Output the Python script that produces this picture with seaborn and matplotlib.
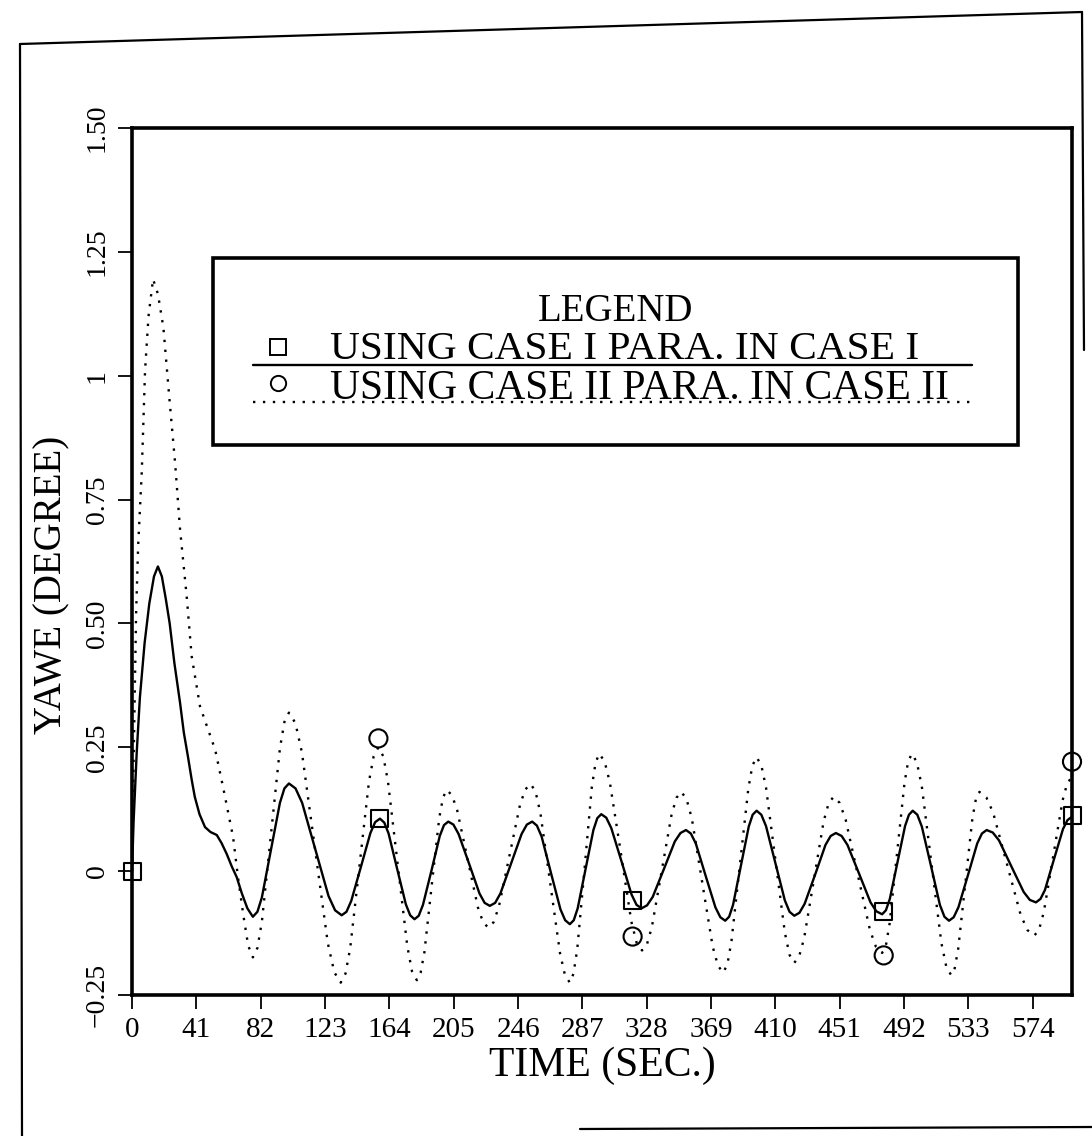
import matplotlib
matplotlib.use("Agg")
import matplotlib.pyplot as plt
from matplotlib.lines import Line2D
from matplotlib.patches import Rectangle
import seaborn as sns
import pandas as pd

# case I parameters in case I (solid curve)
time_case1 = [0, 1, 3, 5, 8, 11, 14, 16.5, 19, 21.5,
              24, 27, 30.6, 33, 35.7, 38, 40, 43, 46.5, 50,
              54, 57, 60.3, 63.5, 66.7, 70, 73.5, 77,
              79.9, 82.75, 88.5, 94.25, 97.1, 100,
              104.2, 108.4, 116.8, 125.2, 129.4, 133.6,
              136.65, 139.7, 145.8, 151.9, 154.95, 158,
              160.75, 163.5, 169, 174.5, 177.25, 180,
              182.7, 185.4, 190.8, 196.1, 198.8, 201.5,
              204.8, 208.1, 214.8, 221.4, 224.7, 228,
              231.4, 234.75, 241.5, 248.25, 251.6, 255,
              258, 261, 267, 273, 276, 279,
              281.5, 284, 289, 294, 296.5, 299,
              302.2, 305.4, 311.9, 318.3, 321.5, 324.7,
              328.2, 331.8, 338.9, 345.9, 349.5, 353,
              356.1, 359.25, 365.5, 371.75, 374.9, 378,
              380.5, 383, 388, 393, 395.5, 398,
              401, 404, 410, 416, 419, 422,
              425.3, 428.6, 435.3, 441.9, 445.2, 448.5,
              452.2, 455.9, 463.3, 470.6, 474.3, 478,
              480.4, 482.9, 487.8, 492.6, 495.1, 497.5,
              500.4, 503.3, 509.1, 514.8, 517.7, 520.6,
              523.6, 526.6, 532.6, 538.6, 541.6, 544.6,
              548.5, 552.5, 560.3, 568.2, 572.1, 576,
              578.9, 581.75, 587.5, 593.25, 596.1, 599]
yaw_case1 = [0, 0.10, 0.24, 0.35, 0.46, 0.54, 0.595, 0.615, 0.595, 0.55,
             0.50, 0.42, 0.34, 0.28, 0.23, 0.185, 0.15, 0.115, 0.089, 0.079,
             0.073, 0.057, 0.035, 0.010, -0.012, -0.045, -0.075, -0.092,
             -0.082, -0.053, 0.043, 0.138, 0.167, 0.177,
             0.167, 0.138, 0.044, -0.050, -0.079, -0.089,
             -0.082, -0.060, 0.008, 0.077, 0.099, 0.106,
             0.098, 0.076, 0.004, -0.067, -0.089, -0.097,
             -0.090, -0.068, 0.001, 0.071, 0.093, 0.100,
             0.094, 0.075, 0.015, -0.045, -0.064, -0.070,
             -0.064, -0.045, 0.015, 0.075, 0.094, 0.100,
             0.092, 0.070, -0.004, -0.077, -0.099, -0.107,
             -0.099, -0.075, 0.004, 0.083, 0.107, 0.115,
             0.108, 0.087, 0.020, -0.047, -0.068, -0.075,
             -0.069, -0.052, 0.004, 0.060, 0.077, 0.083,
             0.076, 0.056, -0.009, -0.073, -0.093, -0.100,
             -0.092, -0.068, 0.011, 0.090, 0.114, 0.122,
             0.114, 0.091, 0.016, -0.059, -0.082, -0.090,
             -0.084, -0.066, -0.007, 0.053, 0.071, 0.077,
             0.071, 0.053, -0.005, -0.063, -0.081, -0.087,
             -0.079, -0.056, 0.018, 0.091, 0.114, 0.122,
             0.114, 0.090, 0.011, -0.068, -0.092, -0.100,
             -0.093, -0.073, -0.009, 0.056, 0.076, 0.083,
             0.078, 0.062, 0.010, -0.042, -0.058, -0.063,
             -0.056, -0.038, 0.024, 0.085, 0.103, 0.110]

# case II parameters in case II (dotted curve)
time_case2 = [0, 1, 2.6, 3.9, 6.2, 8.3, 10.5, 13.4, 16.5, 20,
              24, 27.4, 30.6, 34.8, 38, 43.3, 48, 53, 58, 64.4,
              67.5, 71, 74, 77,
              79.9, 82.75, 88.5, 94.25, 97.1, 100,
              104.1, 108.25, 116.5, 124.75, 128.9, 133,
              136, 139, 145, 151, 154, 157,
              160.1, 163.1, 169.25, 175.4, 178.4, 181.5,
              183.9, 186.3, 191, 195.8, 198.2, 200.6,
              203.9, 207.2, 213.8, 220.4, 223.7, 227,
              230.4, 233.75, 240.5, 247.25, 250.6, 254,
              257.1, 260.25, 266.5, 272.75, 275.9, 279,
              281.3, 283.7, 288.4, 293, 295.4, 297.7,
              301.1, 304.5, 311.4, 318.2, 321.6, 325,
              328.1, 331.25, 337.5, 343.75, 346.9, 350,
              353.3, 356.7, 363.35, 370, 373.4, 376.7,
              379.4, 382, 387.35, 392.7, 395.3, 398,
              401, 404, 410, 416, 419, 422,
              425.1, 428.25, 434.5, 440.75, 443.9, 447,
              450.9, 454.75, 462.5, 470.25, 474.1, 478,
              480.4, 482.75, 487.5, 492.25, 494.6, 497,
              500.1, 503.25, 509.5, 515.75, 518.9, 522,
              524.25, 526.5, 531, 535.5, 537.75, 540,
              544.4, 548.75, 557.5, 566.25, 570.6, 575,
              578, 581, 587, 593, 596, 599]
yaw_case2 = [0, 0.22, 0.52, 0.657, 0.805, 1.01, 1.12, 1.195, 1.165, 1.097,
             0.947, 0.826, 0.69, 0.556, 0.434, 0.333, 0.29, 0.245, 0.17, 0.069,
             -0.012, -0.09, -0.15, -0.174,
             -0.155, -0.102, 0.073, 0.248, 0.301, 0.32,
             0.299, 0.240, 0.048, -0.145, -0.204, -0.225,
             -0.207, -0.156, 0.013, 0.181, 0.232, 0.25,
             0.232, 0.181, 0.015, -0.151, -0.202, -0.22,
             -0.205, -0.164, -0.028, 0.108, 0.149, 0.164,
             0.153, 0.123, 0.025, -0.073, -0.103, -0.114,
             -0.103, -0.072, 0.031, 0.134, 0.165, 0.176,
             0.161, 0.117, -0.025, -0.166, -0.210, -0.225,
             -0.207, -0.158, 0.006, 0.170, 0.219, 0.237,
             0.222, 0.179, 0.039, -0.102, -0.145, -0.16,
             -0.148, -0.113, 0.0, 0.113, 0.148, 0.16,
             0.146, 0.107, -0.023, -0.152, -0.191, -0.205,
             -0.188, -0.141, 0.013, 0.166, 0.213, 0.23,
             0.214, 0.169, 0.023, -0.124, -0.169, -0.185,
             -0.172, -0.136, -0.018, 0.101, 0.137, 0.15,
             0.138, 0.104, -0.008, -0.119, -0.153, -0.165,
             -0.150, -0.106, 0.036, 0.178, 0.222, 0.237,
             0.220, 0.172, 0.014, -0.145, -0.193, -0.21,
             -0.196, -0.156, -0.025, 0.106, 0.146, 0.16,
             0.149, 0.118, 0.015, -0.088, -0.119, -0.13,
             -0.118, -0.083, 0.03, 0.143, 0.178, 0.19]

# symbol markers
square_t = [0, 158, 319, 479, 599]
square_v = [0, 0.107, -0.06, -0.081, 0.113]
circle_t = [157, 319, 479, 599]
circle_v = [0.268, -0.132, -0.17, 0.221]

xticks = [0, 41, 82, 123, 164, 205, 246, 287, 328, 369, 410, 451, 492, 533, 574]
yticks = [-0.25, 0, 0.25, 0.5, 0.75, 1.0, 1.25, 1.5]
ytick_labels = ["\u22120.25", "0", "0.25", "0.50", "0.75", "1", "1.25", "1.50"]

sns.set_style("ticks")
plt.rcParams["font.family"] = ["Liberation Serif", "DejaVu Serif"]
plt.rcParams["text.color"] = "black"
plt.rcParams["axes.labelcolor"] = "black"
plt.rcParams["xtick.color"] = "black"
plt.rcParams["ytick.color"] = "black"
plt.rcParams["axes.edgecolor"] = "black"

fig = plt.figure(figsize=(10.92, 11.36), dpi=100)
ax = fig.add_axes([0.1209, 0.1241, 0.8608, 0.7632])

df1 = pd.DataFrame({"t": time_case1, "v": yaw_case1})
df2 = pd.DataFrame({"t": time_case2, "v": yaw_case2})
sns.lineplot(data=df1, x="t", y="v", ax=ax, color="black", lw=1.7, estimator=None)
sns.lineplot(data=df2, x="t", y="v", ax=ax, color="black", lw=1.7, estimator=None,
             linestyle=(0, (1, 3.2)))
sns.scatterplot(x=square_t, y=square_v, ax=ax, marker="s", s=150,
                facecolor="none", edgecolor="black", linewidth=1.5, zorder=5, clip_on=False)
sns.scatterplot(x=circle_t, y=circle_v, ax=ax, marker="o", s=170,
                facecolor="none", edgecolor="black", linewidth=1.5, zorder=5, clip_on=False)

ax.set_xlim(0, 599)
ax.set_ylim(-0.25, 1.5)
ax.set_xticks(xticks)
ax.set_xticklabels([str(x) for x in xticks], fontsize=21)
ax.set_yticks(yticks)
ax.set_yticklabels(ytick_labels, fontsize=20, rotation=90, va="center")
ax.tick_params(direction="out", length=10, width=1.3, pad=6)
for sp in ax.spines.values():
    sp.set_linewidth(2.6)
    sp.set_visible(True)
ax.set_xlabel("TIME (SEC.)", fontsize=30, labelpad=2)
ax.set_ylabel("YAWE (DEGREE)", fontsize=28)
ax.yaxis.set_label_coords(-0.066, 0.473)

# legend box drawn inside the axes
tr = ax.transAxes
ax.add_patch(Rectangle((0.086, 0.634), 0.857, 0.216, transform=tr, fill=False,
                       lw=2.6, edgecolor="black", zorder=6))
ax.text(0.514, 0.788, "LEGEND", transform=tr, ha="center", va="center", fontsize=28)
ax.plot([0.155], [0.747], transform=tr, marker="s", ms=11, mfc="none", mec="black", mew=1.4)
ax.text(0.211, 0.744, "USING CASE I PARA. IN CASE I", transform=tr, ha="left", va="center",
        fontsize=29.8)
ax.plot([0.129, 0.894], [0.727, 0.727], transform=tr, color="black", lw=1.7)
ax.plot([0.155], [0.706], transform=tr, marker="o", ms=11, mfc="none", mec="black", mew=1.4)
ax.text(0.211, 0.699, "USING CASE II PARA. IN CASE II", transform=tr, ha="left", va="center",
        fontsize=30)
ax.plot([0.129, 0.894], [0.684, 0.684], transform=tr, color="black", lw=1.7,
        linestyle=(0, (1, 3.2)))

# page border from the scanned sheet
W, H = 1092, 1136
def page_line(xs, ys, lw=1.6):
    fig.add_artist(Line2D([x / W for x in xs], [1 - y / H for y in ys],
                          transform=fig.transFigure, color="black", lw=lw))
page_line([20, 22], [44, 1136])
page_line([20, 1082], [44, 12])
page_line([1082, 1084], [12, 350])
page_line([580, 1092], [1129, 1127])

fig.savefig("out.png", dpi=100)
